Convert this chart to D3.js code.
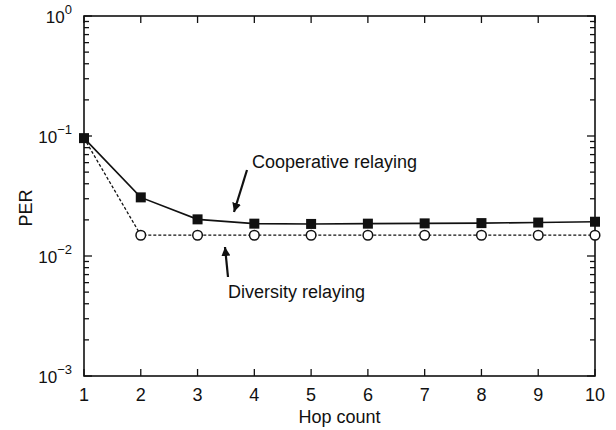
<!DOCTYPE html>
<html><head><meta charset="utf-8">
<script src="https://cdn.jsdelivr.net/npm/d3@7"></script>
<style>body{margin:0;background:#fff}svg{display:block}text{font-family:"Liberation Sans",Arial,sans-serif;fill:#111}</style>
</head><body><div id="chart"></div>
<script>
const hops = [1,2,3,4,5,6,7,8,9,10];
const cooperative = [0.096,0.0308,0.0202,0.0186,0.0185,0.0186,0.0187,0.0188,0.019,0.0193];
const diversity = [0.096,0.0149,0.0149,0.0149,0.0149,0.0149,0.0149,0.0149,0.0149,0.0149];
const xTicks = [1,2,3,4,5,6,7,8,9,10];
const yDecades = [0,-1,-2,-3];

const W=616,H=430, L=84,R=595,T=16,B=376;
const svg=d3.select("#chart").append("svg").attr("width",W).attr("height",H);
const x=d3.scaleLinear().domain([1,10]).range([L,R]);
const y=d3.scaleLog().domain([1e-3,1]).range([B,T]);
const ink="#111";

// minor ticks
const minor=[];
for(let e=-3;e<0;e++) for(let m=2;m<=9;m++) minor.push(m*Math.pow(10,e));
const g=svg.append("g").attr("stroke",ink).attr("stroke-width",1.3);
minor.forEach(v=>{
  g.append("line").attr("x1",L).attr("x2",L+5).attr("y1",y(v)).attr("y2",y(v));
  g.append("line").attr("x1",R).attr("x2",R-5).attr("y1",y(v)).attr("y2",y(v));
});
yDecades.forEach(e=>{
  const v=Math.pow(10,e);
  g.append("line").attr("x1",L).attr("x2",L+8).attr("y1",y(v)).attr("y2",y(v));
  g.append("line").attr("x1",R).attr("x2",R-8).attr("y1",y(v)).attr("y2",y(v));
});
xTicks.forEach(v=>{
  g.append("line").attr("x1",x(v)).attr("x2",x(v)).attr("y1",B).attr("y2",B-7);
  g.append("line").attr("x1",x(v)).attr("x2",x(v)).attr("y1",T).attr("y2",T+7);
});
svg.append("rect").attr("x",L).attr("y",T).attr("width",R-L).attr("height",B-T)
  .attr("fill","none").attr("stroke",ink).attr("stroke-width",1.6);

// tick labels
xTicks.forEach(v=>{
  svg.append("text").attr("x",x(v)).attr("y",B+25).attr("text-anchor","middle")
    .attr("font-size",18).text(v);
});
yDecades.forEach(e=>{
  const t=svg.append("text").attr("x",L-12).attr("y",y(Math.pow(10,e))+7)
    .attr("text-anchor","end").attr("font-size",17);
  t.append("tspan").text("10");
  t.append("tspan").attr("dy",-9).attr("font-size",13).text(e===0?"0":"\u2212"+(-e));
});
svg.append("text").attr("x",(L+R)/2).attr("y",423).attr("text-anchor","middle")
  .attr("font-size",18).text("Hop count");
svg.append("text").attr("transform","translate(32,208) rotate(-90)").attr("text-anchor","middle")
  .attr("font-size",18).text("PER");

// lines
const line=d3.line().x((d,i)=>x(hops[i])).y(d=>y(d));
svg.append("path").datum(diversity).attr("d",line).attr("fill","none")
  .attr("stroke",ink).attr("stroke-width",1.3).attr("stroke-dasharray","3,2");
svg.append("path").datum(cooperative).attr("d",line).attr("fill","none")
  .attr("stroke",ink).attr("stroke-width",1.6);

svg.selectAll("circle.d").data(diversity.slice(1)).enter().append("circle")
  .attr("cx",(d,i)=>x(hops[i+1])).attr("cy",d=>y(d)).attr("r",4.8)
  .attr("fill","#fff").attr("stroke",ink).attr("stroke-width",1.5);
svg.selectAll("rect.c").data(cooperative).enter().append("rect")
  .attr("x",(d,i)=>x(hops[i])-5).attr("y",d=>y(d)-5).attr("width",10).attr("height",10)
  .attr("fill",ink);

// annotations
const defs=svg.append("defs");
defs.append("marker").attr("id","ah").attr("viewBox","0 0 10 10").attr("refX",10).attr("refY",5)
  .attr("markerWidth",9).attr("markerHeight",10).attr("markerUnits","userSpaceOnUse").attr("orient","auto")
  .append("path").attr("d","M0,0L10,5L0,10Z").attr("fill",ink);
function arrow(x1,y1,x2,y2){
  svg.append("line").attr("x1",x1).attr("y1",y1).attr("x2",x2).attr("y2",y2)
    .attr("stroke",ink).attr("stroke-width",2.2).attr("marker-end","url(#ah)");
}
svg.append("text").attr("x",252).attr("y",168).attr("font-size",18).text("Cooperative relaying");
arrow(247,170,234,212);
svg.append("text").attr("x",228).attr("y",298).attr("font-size",18).text("Diversity relaying");
arrow(228,277,225,247);
</script></body></html>
